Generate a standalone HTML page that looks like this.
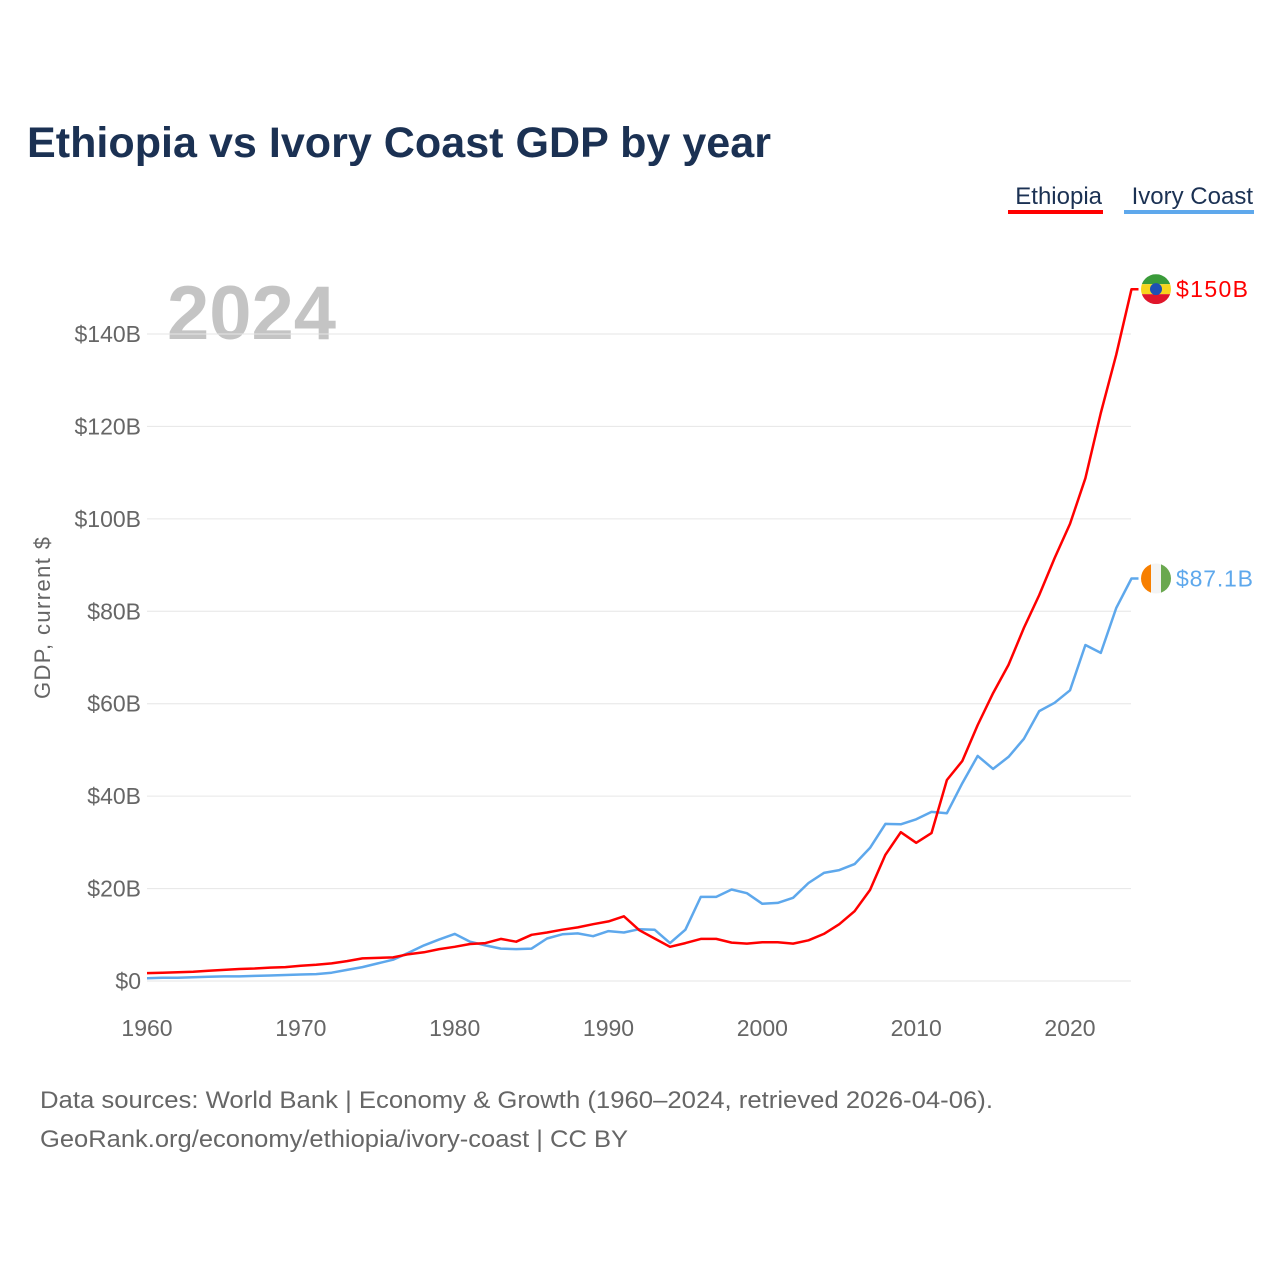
<!DOCTYPE html>
<html><head><meta charset="utf-8"><style>
body{margin:0;background:#fff;font-family:"Liberation Sans",sans-serif;}
svg{display:block}
</style></head><body>
<svg width="1280" height="1280" id="chart">
<text x="27" y="157" font-size="43" font-weight="bold" fill="#1b3153" textLength="744" lengthAdjust="spacingAndGlyphs">Ethiopia vs Ivory Coast GDP by year</text>
<g>
<text x="1102" y="204" font-size="24" fill="#1b3153" text-anchor="end">Ethiopia</text>
<rect x="1008" y="210" width="95" height="4" fill="#ff0000"/>
<text x="1253" y="204" font-size="24" fill="#1b3153" text-anchor="end">Ivory Coast</text>
<rect x="1124" y="210" width="130" height="4" fill="#5ea8ec"/>
</g>
<text x="167" y="339" font-size="76" font-weight="bold" fill="#c4c4c4">2024</text>
<text transform="translate(50,618) rotate(-90)" font-size="22" fill="#666" text-anchor="middle" textLength="162">GDP, current $</text>
<g id="grid"></g><g id="lines"></g><g id="ends"></g>
<text x="40" y="1108" font-size="24" fill="#666" textLength="953" lengthAdjust="spacingAndGlyphs">Data sources: World Bank | Economy &amp; Growth (1960–2024, retrieved 2026-04-06).</text>
<text x="40" y="1147" font-size="24" fill="#666" textLength="588" lengthAdjust="spacingAndGlyphs">GeoRank.org/economy/ethiopia/ivory-coast | CC BY</text>
</svg>
<script>
const years=[];for(let y=1960;y<=2024;y++)years.push(y);
const ethiopia=[1.7,1.8,1.9,2.0,2.2,2.4,2.6,2.7,2.9,3.0,3.3,3.5,3.8,4.3,4.9,5.0,5.1,5.8,6.2,6.9,7.4,8.0,8.2,9.1,8.5,10.0,10.5,11.1,11.6,12.3,12.9,14.0,11.0,9.2,7.4,8.2,9.1,9.1,8.3,8.1,8.4,8.4,8.1,8.8,10.2,12.3,15.1,19.7,27.3,32.2,29.9,32.0,43.5,47.6,55.4,62.3,68.4,76.4,83.5,91.5,98.9,108.8,122.9,135.5,149.7];
const ivory=[0.6,0.7,0.7,0.8,0.9,1.0,1.0,1.1,1.2,1.3,1.4,1.5,1.8,2.4,3.0,3.8,4.6,6.1,7.7,9.0,10.2,8.5,7.7,7.0,6.9,7.0,9.2,10.1,10.3,9.7,10.8,10.5,11.2,11.1,8.2,11.1,18.2,18.2,19.8,19.0,16.7,16.9,18.0,21.2,23.4,24.0,25.3,28.8,34.0,33.9,35.0,36.6,36.3,42.8,48.7,45.9,48.5,52.4,58.4,60.2,62.9,72.7,71.0,80.7,87.1];
const yTicks=[0,20,40,60,80,100,120,140];
const yTickLabels=["$0","$20B","$40B","$60B","$80B","$100B","$120B","$140B"];
const xTicks=[1960,1970,1980,1990,2000,2010,2020];
const NS="http://www.w3.org/2000/svg";
const X=y=>147+(y-1960)*(923/60);
const Y=v=>981-v*(647/140);
function mk(t,a,p){const e=document.createElementNS(NS,t);for(const k in a)e.setAttribute(k,a[k]);p.appendChild(e);return e;}
const grid=document.getElementById('grid');
yTicks.forEach((v,i)=>{
 const l=mk('line',{x1:147,x2:1131,y1:Y(v),y2:Y(v),stroke:'#e6e6e6','stroke-width':1},grid);
 
 
 const t=mk('text',{x:141,y:Y(v)+8,'font-size':23,fill:'#666','text-anchor':'end'},grid);
 t.textContent=yTickLabels[i];
 
 
});
xTicks.forEach(v=>{
 const t=mk('text',{x:X(v),y:1036,'font-size':23,fill:'#666','text-anchor':'middle'},grid);
 t.textContent=v;
 
 
});
const lines=document.getElementById('lines');
function series(vals,color,name){
 let d=vals.map((v,i)=>(i?'L':'M')+X(years[i]).toFixed(1)+','+Y(v).toFixed(1)).join(' ');
 d+=' h7';
 const p=mk('path',{d:d,fill:'none',stroke:color,'stroke-width':2.5,'stroke-linejoin':'round'},lines);
 
 
}
series(ivory,'#5ea8ec','ivory-coast-line');
series(ethiopia,'#ff0000','ethiopia-line');
const ends=document.getElementById('ends');
function fmt(v){return v>=100?'$'+Math.round(v)+'B':'$'+v.toFixed(1)+'B';}
let ey=Y(ethiopia[64]);
let g=mk('g',{},ends);


mk('clipPath',{id:'c1'},g).appendChild(document.createElementNS(NS,'circle'));
let c=g.querySelector('clipPath circle');c.setAttribute('cx',1156);c.setAttribute('cy',ey);c.setAttribute('r',15);
let gg=mk('g',{'clip-path':'url(#c1)'},g);
mk('rect',{x:1141,y:ey-15,width:30,height:10,fill:'#3a9b3a'},gg);
mk('rect',{x:1141,y:ey-5,width:30,height:10,fill:'#f7d51d'},gg);
mk('rect',{x:1141,y:ey+5,width:30,height:10,fill:'#e0162b'},gg);
mk('circle',{cx:1156,cy:ey,r:6,fill:'#1e50b4'},gg);
let t=mk('text',{x:1176,y:ey+8,'font-size':23,fill:'#ff0000',textLength:72},ends);t.textContent=fmt(ethiopia[64]);


let iy=Y(ivory[64]);
g=mk('g',{},ends);


mk('clipPath',{id:'c2'},g).appendChild(document.createElementNS(NS,'circle'));
c=g.querySelector('clipPath circle');c.setAttribute('cx',1156);c.setAttribute('cy',iy);c.setAttribute('r',15);
gg=mk('g',{'clip-path':'url(#c2)'},g);
mk('rect',{x:1141,y:iy-15,width:10,height:30,fill:'#f77f00'},gg);
mk('rect',{x:1151,y:iy-15,width:10,height:30,fill:'#f4f4f4'},gg);
mk('rect',{x:1161,y:iy-15,width:10,height:30,fill:'#6aa84f'},gg);
t=mk('text',{x:1176,y:iy+8,'font-size':23,fill:'#5ea8ec',textLength:77},ends);t.textContent=fmt(ivory[64]);


</script>
</body></html>
